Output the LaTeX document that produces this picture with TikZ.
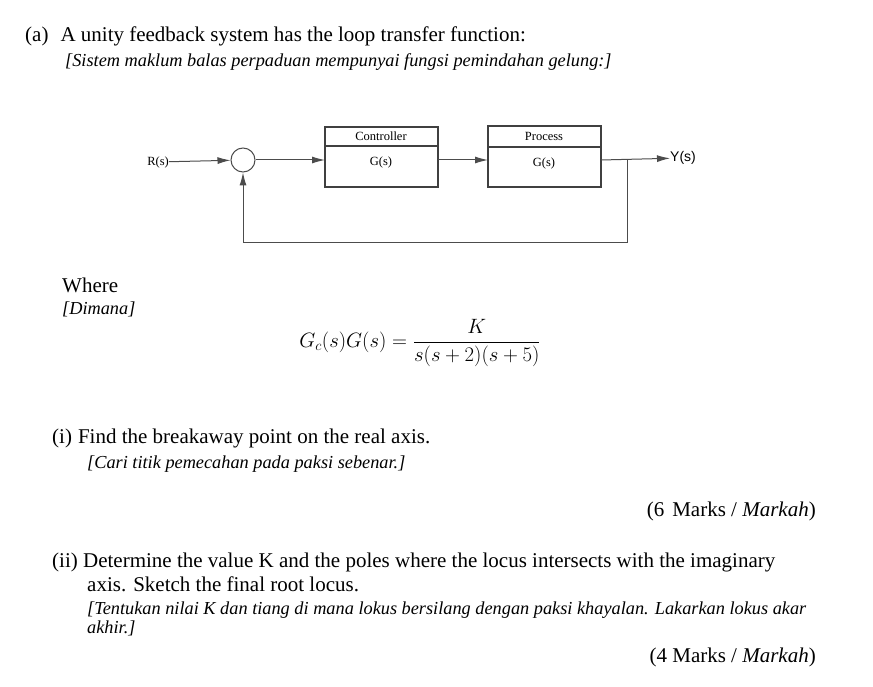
\documentclass[tikz,border=0pt]{standalone}
\usepackage{fontspec}
\setmainfont{Liberation Serif}
\newfontfamily\dsans{Liberation Sans}
\usetikzlibrary{arrows.meta}
\begin{document}
\begin{tikzpicture}[x=1pt,y=-1pt,
  txt/.style={anchor=base west,inner sep=0pt,font=\fontsize{21}{24}\selectfont},
  itx/.style={anchor=base west,inner sep=0pt,font=\fontsize{18.3}{21}\selectfont\itshape},
  blk/.style={draw=black!75,line width=2pt},
  sig/.style={draw=black!70,line width=1pt,-{Latex[length=13pt,width=7pt]}},
  lbl/.style={inner sep=0pt,font=\fontsize{12.5}{14}\selectfont}]
\useasboundingbox (0,0) rectangle (873,687);
\fill[white] (0,0) rectangle (873,687);
\node[txt] (a) at (25,42) {(a)\hspace{12pt}A unity feedback system has the loop transfer function:};
\node[itx] (a2) at (65,67) {[Sistem maklum balas perpaduan mempunyai fungsi pemindahan gelung:]};
% block diagram
\node[lbl,anchor=east] (R) at (169,162) {R(s)};
\node[draw=black!70,circle,minimum size=24pt,inner sep=0pt,line width=1pt] (sum) at (243,160) {};
\draw[blk] (325,127) rectangle (438,187);
\draw[blk] (325,146) -- (438,146);
\node[lbl] (c1) at (381,136) {Controller};
\node[lbl] (c2) at (381,162) {G(s)};
\coordinate (cin) at (325,160);
\coordinate (cout) at (438,160);
\draw[blk] (488,126) rectangle (601,187);
\draw[blk] (488,147) -- (601,147);
\node[lbl] (p1) at (544,136) {Process};
\node[lbl] (p2) at (544,163) {G(s)};
\coordinate (pin) at (488,160);
\coordinate (pout) at (601,160);
\node[lbl,anchor=west,font=\fontsize{14}{16}\dsans] (Y) at (670,158) {Y(s)};
\coordinate (br) at (627,160);
\coordinate (bb) at (627,243);
\coordinate (sb) at (243,243);
\draw[sig] (R) -- (sum);
\draw[sig] (sum) -- (cin);
\draw[sig] (cout) -- (pin);
\draw[sig] (pout) -- (Y);
\draw[sig] (br) -- (bb) -- (sb) -- (sum);
% where
\node[txt] (w) at (62,292) {Where};
\node[itx] (w2) at (62,314) {[Dimana]};
\node[inner sep=0pt,font=\fontsize{22}{26}\selectfont] (eq) at (420,343) {$\displaystyle G_c(s)G(s) = \frac{K}{s(s+2)(s+5)}$};
\node[txt] (i) at (52,443) {(i)\hspace{6pt}Find the breakaway point on the real axis.};
\node[itx] (i2) at (87,468) {[Cari titik pemecahan pada paksi sebenar.]};
\node[txt,anchor=base east] (m1) at (816,516) {(6\hspace{8pt}Marks / {\itshape Markah})};
\node[txt] (ii) at (52,567) {(ii) Determine the value K and the poles where the locus intersects with the imaginary};
\node[txt] (ii2) at (87,591) {axis. Sketch the final root locus.};
\node[itx] (ii3) at (87,614) {[Tentukan nilai K dan tiang di mana lokus bersilang dengan paksi khayalan. Lakarkan lokus akar};
\node[itx] (ii4) at (87,633) {akhir.]};
\node[txt,anchor=base east] (m2) at (816,662) {(4 Marks / {\itshape Markah})};
\end{tikzpicture}
\end{document}
